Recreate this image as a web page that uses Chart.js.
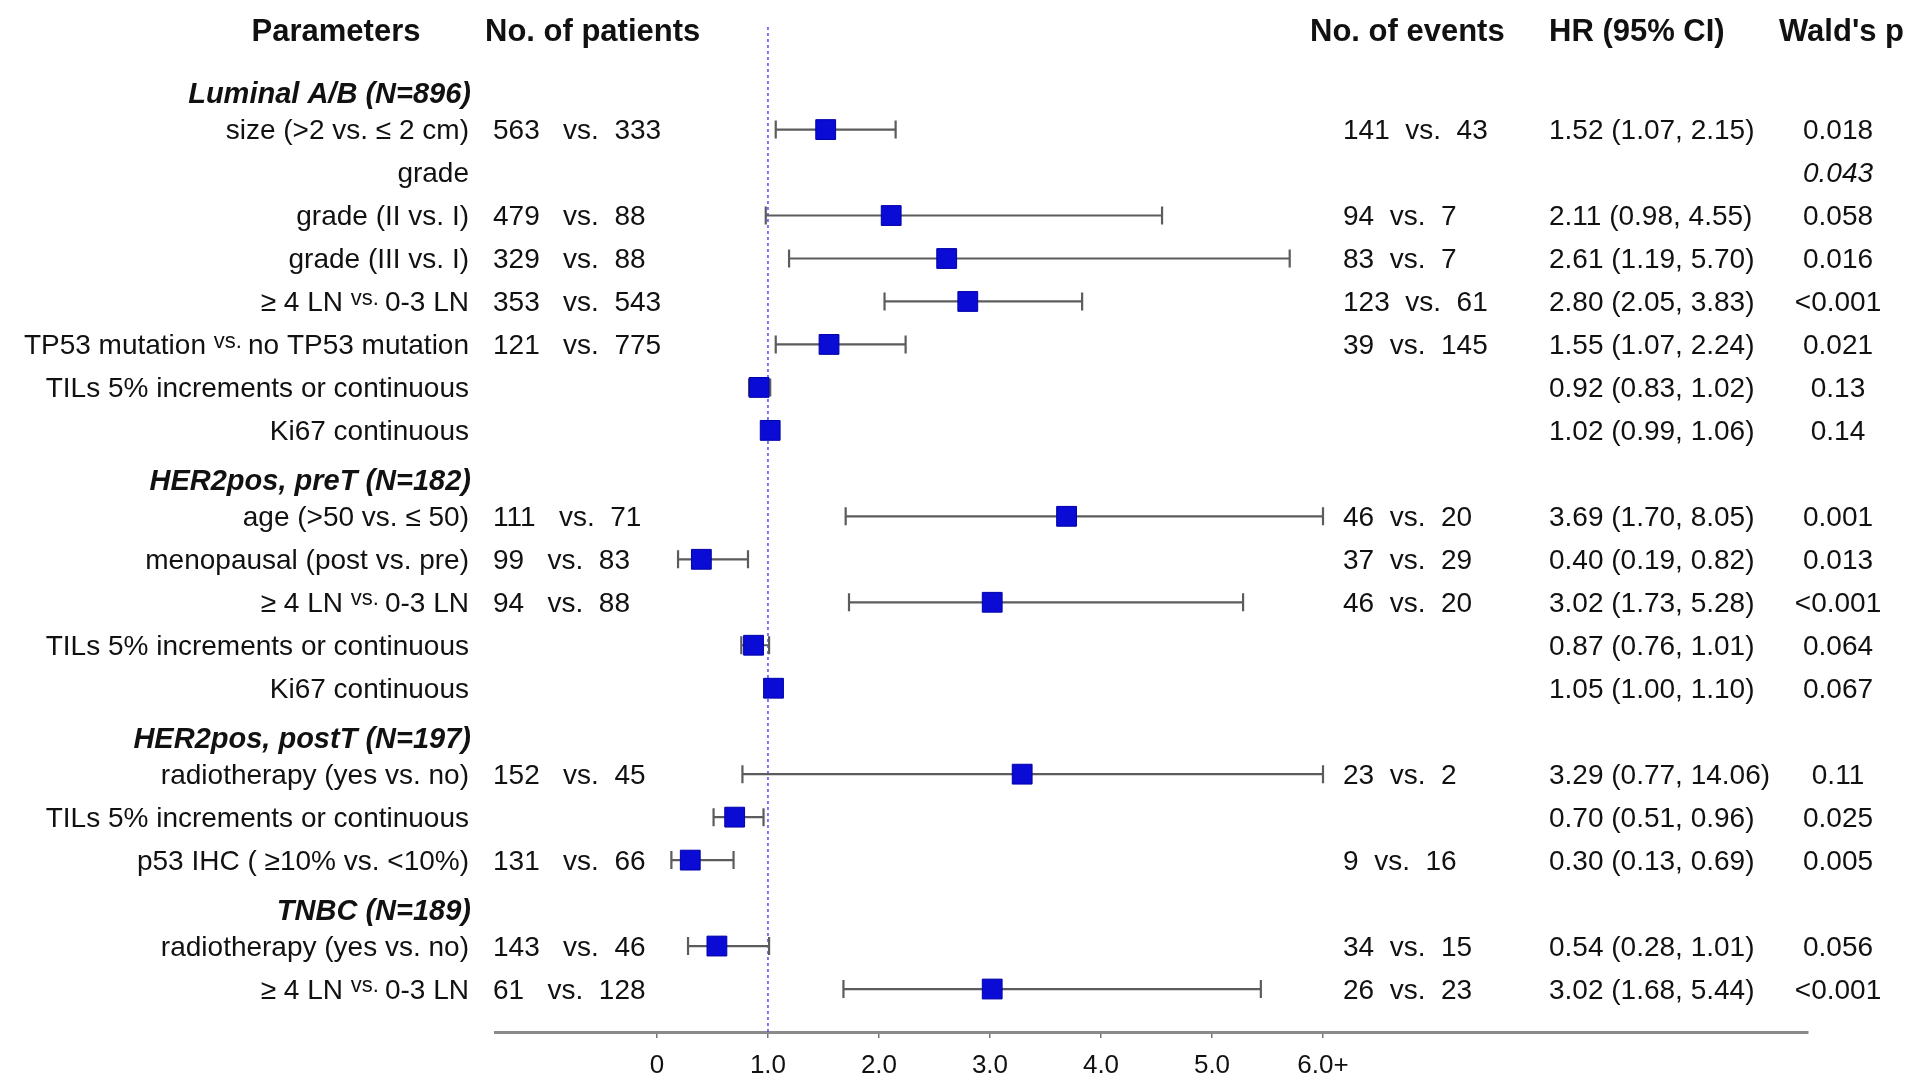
<!DOCTYPE html>
<html>
<head>
<meta charset="utf-8">
<script src="https://cdn.jsdelivr.net/npm/chart.js@4.4.1/dist/chart.umd.min.js"></script>
<style>
  html, body { margin: 0; padding: 0; background: #fff; }
  #wrap { width: 1915px; height: 1078px; position: relative; }
</style>
</head>
<body>
<div id="wrap"><canvas id="forest"></canvas></div>
<script>
// rows of the forest plot, top to bottom
const rowLabels = [
  'Luminal A/B (N=896)',
  'size (>2 vs. \u2264 2 cm)',
  'grade',
  'grade (II vs. I)',
  'grade (III vs. I)',
  '\u2265 4 LN vs. 0-3 LN',
  'TP53 mutation vs. no TP53 mutation',
  'TILs 5% increments or continuous',
  'Ki67 continuous',
  'HER2pos, preT (N=182)',
  'age (>50 vs. \u2264 50)',
  'menopausal (post vs. pre)',
  '\u2265 4 LN vs. 0-3 LN',
  'TILs 5% increments or continuous',
  'Ki67 continuous',
  'HER2pos, postT (N=197)',
  'radiotherapy (yes vs. no)',
  'TILs 5% increments or continuous',
  'p53 IHC ( \u226510% vs. <10%)',
  'TNBC (N=189)',
  'radiotherapy (yes vs. no)',
  '\u2265 4 LN vs. 0-3 LN'
];
const headerRows = [0, 9, 15, 19];

const patientsA = [null, 563, null, 479, 329, 353, 121, null, null, null, 111, 99, 94, null, null, null, 152, null, 131, null, 143, 61];
const patientsB = [null, 333, null, 88, 88, 543, 775, null, null, null, 71, 83, 88, null, null, null, 45, null, 66, null, 46, 128];
const eventsA   = [null, 141, null, 94, 83, 123, 39, null, null, null, 46, 37, 46, null, null, null, 23, null, 9, null, 34, 26];
const eventsB   = [null, 43, null, 7, 7, 61, 145, null, null, null, 20, 29, 20, null, null, null, 2, null, 16, null, 15, 23];

const hr    = [null, 1.52, null, 2.11, 2.61, 2.80, 1.55, 0.92, 1.02, null, 3.69, 0.40, 3.02, 0.87, 1.05, null, 3.29, 0.70, 0.30, null, 0.54, 3.02];
const ciLow = [null, 1.07, null, 0.98, 1.19, 2.05, 1.07, 0.83, 0.99, null, 1.70, 0.19, 1.73, 0.76, 1.00, null, 0.77, 0.51, 0.13, null, 0.28, 1.68];
const ciHigh= [null, 2.15, null, 4.55, 5.70, 3.83, 2.24, 1.02, 1.06, null, 8.05, 0.82, 5.28, 1.01, 1.10, null, 14.06, 0.96, 0.69, null, 1.01, 5.44];
const pValues = ['', '0.018', '0.043', '0.058', '0.016', '<0.001', '0.021', '0.13', '0.14', '',
  '0.001', '0.013', '<0.001', '0.064', '0.067', '', '0.11', '0.025', '0.005', '', '0.056', '<0.001'];

const columnTitles = ['Parameters', 'No. of patients', 'No. of events', 'HR (95% CI)', "Wald's p"];
const xTicks = [0, 1, 2, 3, 4, 5, 6];
const xCap = 6;      // values above are drawn at 6.0+
const refLine = 1;   // HR = 1

const FONT = '"Liberation Sans", Arial, sans-serif';

const points = [];
hr.forEach((v, i) => { if (v !== null) points.push({ x: v, y: i }); });

const fmt = v => v.toFixed(2);

// confidence intervals + reference line, below the squares
const ciPlugin = {
  id: 'ciLines',
  beforeDatasetsDraw(chart) {
    const { ctx, scales: { x, y }, chartArea } = chart;
    ctx.save();
    // dotted line at HR=1
    const xr = x.getPixelForValue(refLine);
    ctx.strokeStyle = '#4d4dff';
    ctx.lineWidth = 1.5;
    ctx.setLineDash([3, 3]);
    ctx.beginPath();
    ctx.moveTo(xr, 27);
    ctx.lineTo(xr, chartArea.bottom);
    ctx.stroke();
    ctx.setLineDash([]);

    ctx.strokeStyle = '#5c5c5c';
    ctx.lineWidth = 2.2;
    hr.forEach((v, i) => {
      if (v === null) return;
      const yy = y.getPixelForValue(i);
      const x1 = x.getPixelForValue(ciLow[i]);
      const x2 = x.getPixelForValue(Math.min(ciHigh[i], xCap));
      ctx.beginPath();
      ctx.moveTo(x1, yy); ctx.lineTo(x2, yy);
      ctx.moveTo(x1, yy - 9); ctx.lineTo(x1, yy + 9);
      ctx.moveTo(x2, yy - 9); ctx.lineTo(x2, yy + 9);
      ctx.stroke();
    });
    ctx.restore();
  }
};

// all the table text
const textPlugin = {
  id: 'forestText',
  afterDraw(chart) {
    const { ctx, scales: { y } } = chart;
    ctx.save();
    ctx.fillStyle = '#111';
    ctx.textBaseline = 'middle';
    const dy = 2;

    // column titles
    const yt = y.getPixelForValue(-1.31) + dy;
    ctx.font = 'bold 31px ' + FONT;
    ctx.textAlign = 'center';
    ctx.fillText(columnTitles[0], 336, yt);
    ctx.textAlign = 'left';
    ctx.fillText(columnTitles[1], 485, yt);
    ctx.fillText(columnTitles[2], 1310, yt);
    ctx.fillText(columnTitles[3], 1549, yt);
    ctx.fillText(columnTitles[4], 1779, yt);

    rowLabels.forEach((label, i) => {
      const isHead = headerRows.includes(i);
      const yy = y.getPixelForValue(isHead ? i + 0.15 : i) + dy;
      const right = 469;
      if (isHead) {
        ctx.font = 'italic bold 29px ' + FONT;
        ctx.textAlign = 'right';
        ctx.fillText(label, right + 2, yy);
        return;
      }
      ctx.font = '28px ' + FONT;
      // comparisons outside brackets have a small raised "vs."
      if (label.includes(' vs. ') && !label.includes('(')) {
        const [a, b] = label.split(' vs. ');
        ctx.textAlign = 'left';
        const wb = ctx.measureText(b).width;
        const wa = ctx.measureText(a + ' ').width;
        ctx.font = '22px ' + FONT;
        const wv = ctx.measureText('vs. ').width;
        const x0 = right - wb - wv - wa;
        ctx.font = '28px ' + FONT;
        ctx.fillText(a + ' ', x0, yy);
        ctx.font = '22px ' + FONT;
        ctx.fillText('vs. ', x0 + wa, yy - 5);
        ctx.font = '28px ' + FONT;
        ctx.fillText(b, x0 + wa + wv, yy);
      } else {
        ctx.textAlign = 'right';
        ctx.fillText(label, right, yy);
      }

      ctx.textAlign = 'left';
      if (patientsA[i] !== null) {
        ctx.fillText(patientsA[i] + '   vs.  ' + patientsB[i], 493, yy);
      }
      if (eventsA[i] !== null) {
        ctx.fillText(eventsA[i] + '  vs.  ' + eventsB[i], 1343, yy);
      }
      if (hr[i] !== null) {
        ctx.fillText(fmt(hr[i]) + ' (' + fmt(ciLow[i]) + ', ' + fmt(ciHigh[i]) + ')', 1549, yy);
      }
      if (pValues[i]) {
        ctx.textAlign = 'center';
        ctx.font = (hr[i] === null ? 'italic ' : '') + '28px ' + FONT;
        ctx.fillText(pValues[i], 1838, yy);
      }
    });
    ctx.restore();
  }
};

const ctx = document.getElementById('forest').getContext('2d');
const forestChart = new Chart(ctx, {
  type: 'scatter',
  data: {
    datasets: [{
      data: points,
      pointStyle: 'rect',
      pointRadius: 14,
      pointHoverRadius: 14,
      backgroundColor: '#0b0bd6',
      borderColor: '#0000a8',
      borderWidth: 1
    }]
  },
  options: {
    responsive: true,
    maintainAspectRatio: false,
    animation: false,
    events: [],
    layout: { padding: { left: 495, right: 107, top: 20, bottom: 0 } },
    plugins: { legend: { display: false }, tooltip: { enabled: false } },
    scales: {
      x: {
        type: 'linear',
        min: -1.459,
        max: 10.369,
        afterBuildTicks(scale) { scale.ticks = xTicks.map(v => ({ value: v })); },
        afterFit(scale) { scale.height = 46; },
        grid: { drawOnChartArea: false, drawTicks: true, tickLength: 6, color: '#777', lineWidth: 1.5 },
        border: { display: true, color: '#8a8a8a', width: 3 },
        ticks: {
          color: '#111',
          font: { family: FONT, size: 26 },
          padding: 12,
          autoSkip: false,
          maxRotation: 0,
          callback(v) { return v === 0 ? '0' : (v === xCap ? v.toFixed(1) + '+' : v.toFixed(1)); }
        }
      },
      y: {
        type: 'linear',
        display: false,
        reverse: true,
        min: -1.55,
        max: 22
      }
    }
  },
  plugins: [ciPlugin, textPlugin]
});
</script>
</body>
</html>
